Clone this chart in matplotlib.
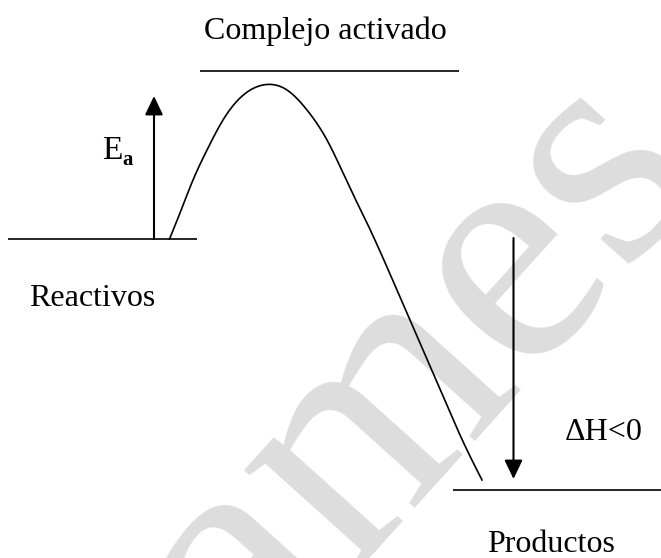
import numpy as np
import matplotlib
matplotlib.use("Agg")
import matplotlib.pyplot as plt
from matplotlib.patches import FancyArrowPatch

# --- diagram values (pixel frame, y grows downward) ---
level_names = ["Reactivos", "Complejo activado", "Productos"]
level_y = [239, 71, 490]
level_x0 = [8, 200, 453]
level_x1 = [197, 459, 661]

curve_x = [169.5, 180, 193, 207, 223, 240, 263, 287, 307, 327, 350, 367, 400, 433, 467, 482]
curve_y = [239, 213, 180, 150, 120, 98, 85, 90, 110, 140, 188, 223, 297, 373, 450, 480]

ea_x, ea_from, ea_to = 154, 239, 96
dh_x, dh_from, dh_to = 513.5, 238, 479

label_text = ["Complejo activado", "Reactivos", "Productos", "\u0394H<0"]
label_x = [325, 29, 487, 565]
label_y = [39, 306, 552, 440]
label_ha = ["center", "left", "left", "left"]

watermark = "ames"


def natural_spline(xs, ys, n=400):
    # plain natural cubic spline, y as a function of x
    x = np.asarray(xs, float)
    y = np.asarray(ys, float)
    k = len(x)
    h = np.diff(x)
    A = np.zeros((k, k))
    r = np.zeros(k)
    A[0, 0] = A[-1, -1] = 1
    for i in range(1, k - 1):
        A[i, i - 1] = h[i - 1]
        A[i, i] = 2 * (h[i - 1] + h[i])
        A[i, i + 1] = h[i]
        r[i] = 6 * ((y[i + 1] - y[i]) / h[i] - (y[i] - y[i - 1]) / h[i - 1])
    m = np.linalg.solve(A, r)
    xx = np.linspace(x[0], x[-1], n)
    j = np.clip(np.searchsorted(x, xx) - 1, 0, k - 2)
    t0 = x[j + 1] - xx
    t1 = xx - x[j]
    hj = h[j]
    yy = (m[j] * t0 ** 3 / (6 * hj) + m[j + 1] * t1 ** 3 / (6 * hj)
          + (y[j] / hj - m[j] * hj / 6) * t0 + (y[j + 1] / hj - m[j + 1] * hj / 6) * t1)
    return xx, yy


fig = plt.figure(figsize=(6.61, 5.58), dpi=100)
ax = fig.add_axes([0, 0, 1, 1])
ax.set_xlim(0, 661)
ax.set_ylim(558, 0)
ax.axis("off")

serif = "Liberation Serif"

# watermark
ax.text(478, 425, watermark, fontsize=238, family=serif, color="#dddddd",
        rotation=48, rotation_mode="anchor", ha="center", va="baseline", zorder=0)

# energy levels
for y, x0, x1 in zip(level_y, level_x0, level_x1):
    ax.plot([x0, x1], [y, y], color="black", lw=1.2, solid_capstyle="butt", zorder=2)

# reaction profile
cx, cy = natural_spline(curve_x, curve_y)
ax.plot(cx, cy, color="black", lw=1.2, zorder=2)

# arrows
for x, y0, y1 in [(ea_x, ea_from, ea_to), (dh_x, dh_from, dh_to)]:
    arr = FancyArrowPatch((x, y0), (x, y1), arrowstyle="-|>,head_length=1.15,head_width=0.55",
                          mutation_scale=10, lw=1.5, color="black",
                          shrinkA=0, shrinkB=0, zorder=3)
    ax.add_patch(arr)

# labels
for s, x, y, ha in zip(label_text, label_x, label_y, label_ha):
    ax.text(x, y, s, fontsize=23, family=serif, ha=ha, va="baseline", zorder=3)

ax.text(102, 159, "E", fontsize=24, family=serif, ha="left", va="baseline", zorder=3)
ax.text(122, 165, "a", fontsize=15, family=serif, weight="bold", ha="left", va="baseline", zorder=3)

fig.savefig("out.png", dpi=100)
